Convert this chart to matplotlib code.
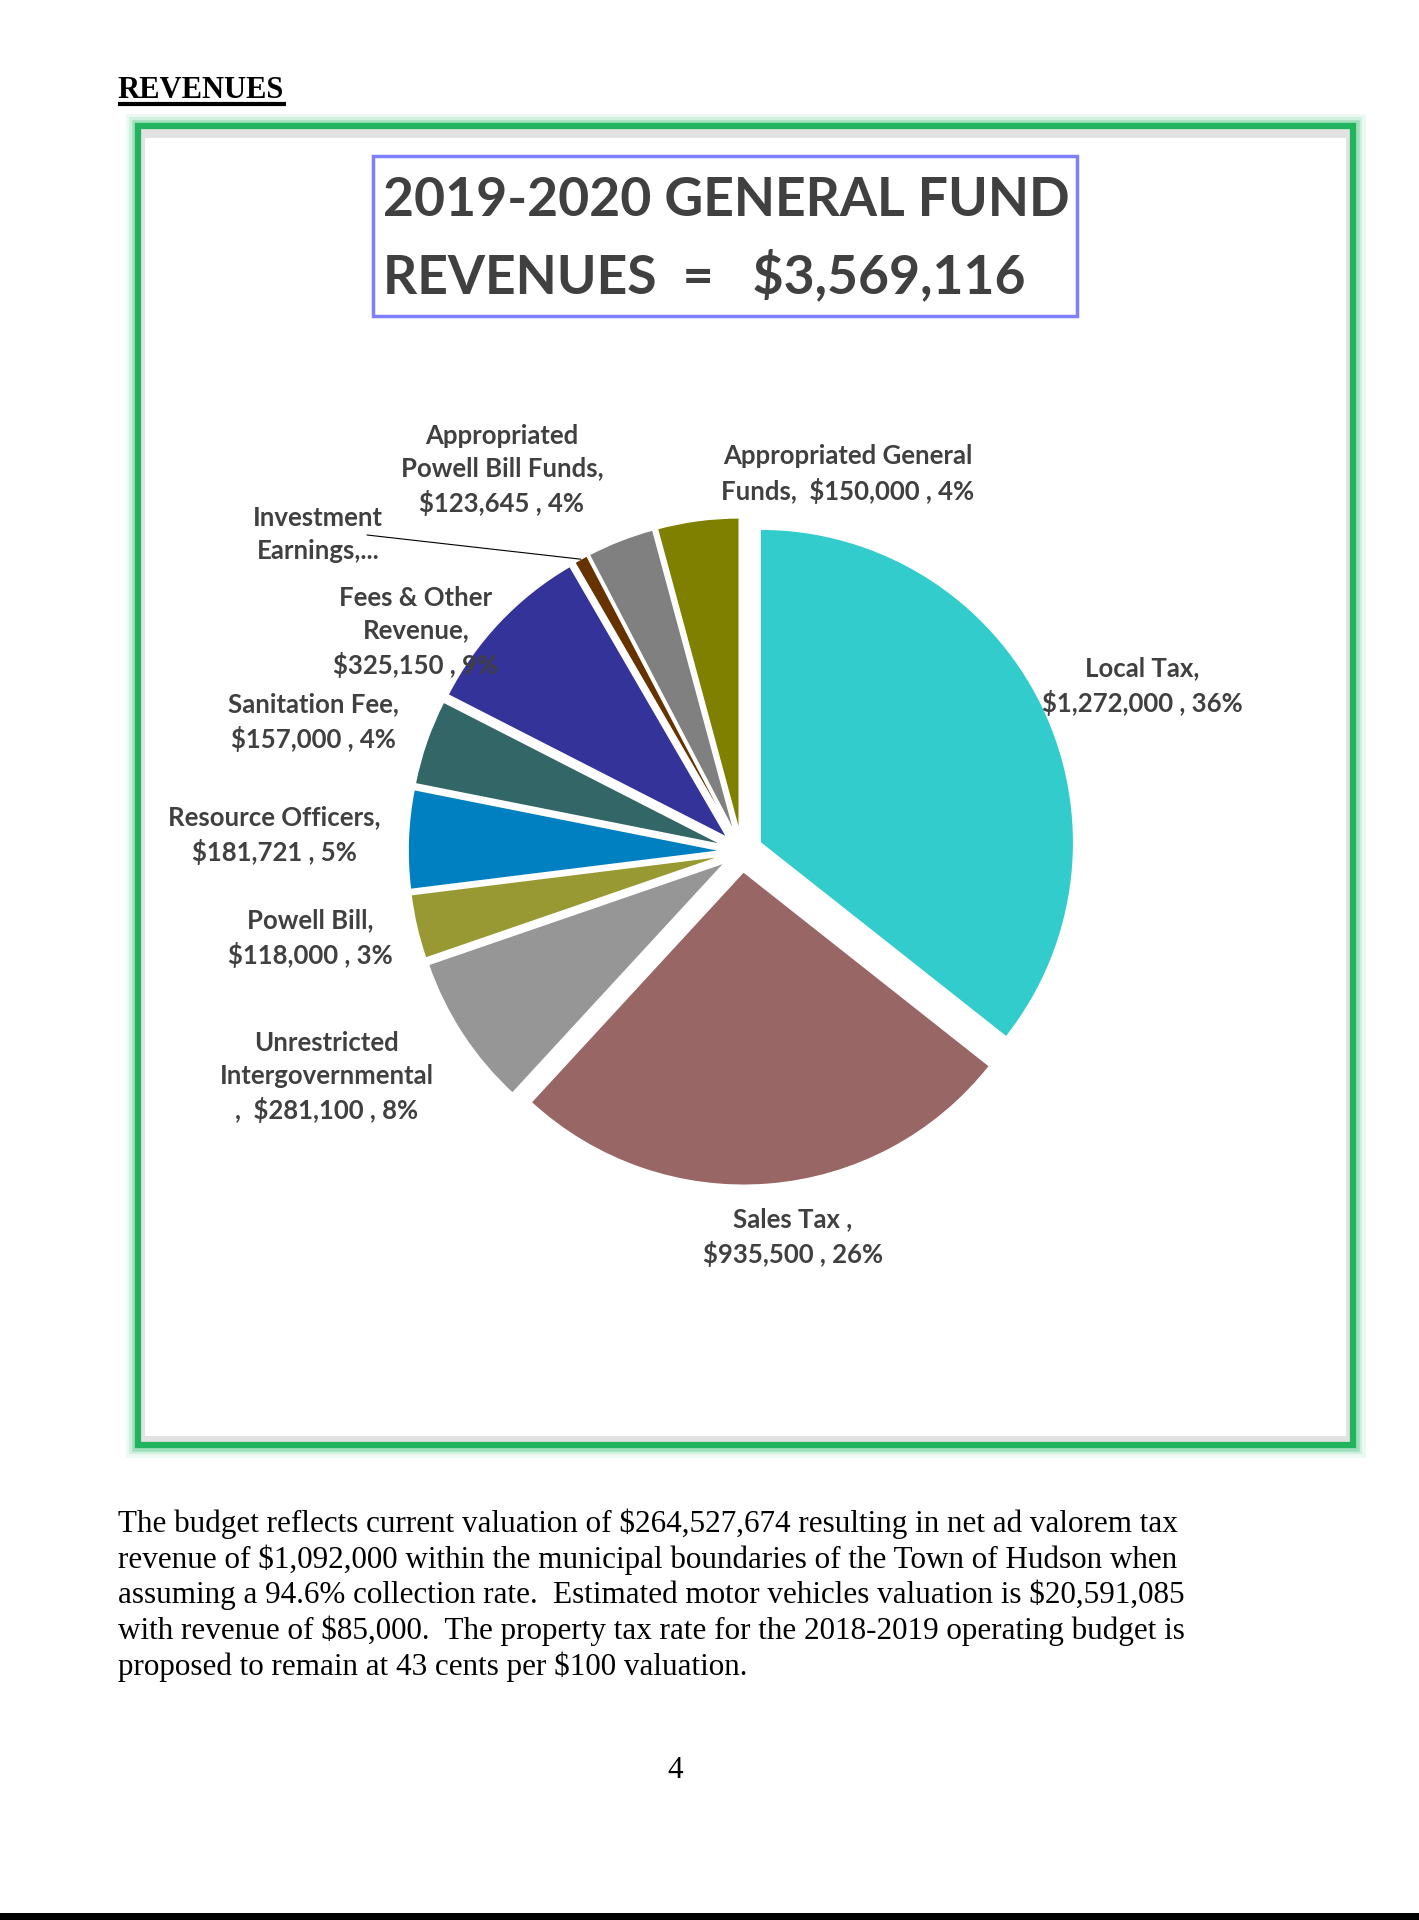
import matplotlib.pyplot as plt
from matplotlib.patches import Rectangle
import numpy as np

# revenue data, clockwise from 12 o'clock
categories = ['Local Tax', 'Sales Tax', 'Unrestricted Intergovernmental', 'Powell Bill',
              'Resource Officers', 'Sanitation Fee', 'Fees & Other Revenue',
              'Investment Earnings', 'Appropriated Powell Bill Funds',
              'Appropriated General Funds']
amounts = [1272000, 935500, 281100, 118000, 181721, 157000, 325150, 25000, 123645, 150000]
colors = ['#33CCCC', '#996666', '#969696', '#999933', '#0080C0', '#336666',
          '#333399', '#663300', '#808080', '#808000']

# data labels as they are broken in the chart
label_texts = ['Local Tax,\n$1,272,000 , 36%',
               'Sales Tax ,\n$935,500 , 26%',
               'Unrestricted\nIntergovernmental\n,  $281,100 , 8%',
               'Powell Bill,\n$118,000 , 3%',
               'Resource Officers,\n$181,721 , 5%',
               'Sanitation Fee,\n$157,000 , 4%',
               'Fees & Other\nRevenue,\n$325,150 , 9%',
               'Investment\nEarnings,...',
               'Appropriated\nPowell Bill Funds,\n$123,645 , 4%',
               'Appropriated General\nFunds,  $150,000 , 4%']
# label centres in page pixels (x, y from top)
label_pos = [(1142, 686), (793, 1237), (327, 1077), (310, 938), (274, 835),
             (313, 722), (416, 632), (318, 535), (502, 470), (848, 474)]

title_lines = ['2019-2020 GENERAL FUND', 'REVENUES  =   $3,569,116']
body_lines = ['The budget reflects current valuation of $264,527,674 resulting in net ad valorem tax',
              'revenue of $1,092,000 within the municipal boundaries of the Town of Hudson when',
              'assuming a 94.6% collection rate.  Estimated motor vehicles valuation is $20,591,085',
              'with revenue of $85,000.  The property tax rate for the 2018-2019 operating budget is',
              'proposed to remain at 43 cents per $100 valuation.']

W, H = 1419, 1920
fig = plt.figure(figsize=(W / 100, H / 100), dpi=100)
bg = fig.add_axes([0, 0, 1, 1])
bg.set_xlim(0, W)
bg.set_ylim(H, 0)
bg.axis('off')


def fpos(x, y):
    return x / W, 1 - y / H


# heading
fig.text(*fpos(117.5, 98), 'REVENUES', fontsize=22, fontweight='bold',
         family='Liberation Serif', va='baseline', ha='left')
bg.plot([117.5, 286], [104, 104], color='black', lw=3, solid_capstyle='butt')

# green chart frame with glow
x0, y0, x1, y1 = 138, 126, 1353, 1445
for lw, a in [(18, 0.08), (13, 0.15), (9, 0.3)]:
    bg.add_patch(Rectangle((x0, y0), x1 - x0, y1 - y0, fill=False,
                           edgecolor='#2dbd6e', lw=lw, alpha=a))
bg.add_patch(Rectangle((x0, y0), x1 - x0, y1 - y0, facecolor='#e2e2e2',
                       edgecolor='#22b35e', lw=4.5))
bg.add_patch(Rectangle((x0 + 7, y0 + 12), x1 - x0 - 14, y1 - y0 - 21,
                       facecolor='white', edgecolor='none'))

# title box
bg.add_patch(Rectangle((373, 156), 704, 160, fill=False, edgecolor='#8080ff', lw=2.5))
fig.text(*fpos(383, 200), title_lines[0], fontsize=38.5, fontweight='bold',
         family='Lato', color='#404040', va='center', ha='left')
fig.text(*fpos(383, 276), title_lines[1], fontsize=38.5, fontweight='bold',
         family='Lato', color='#404040', va='center', ha='left')

# pie
cx, cy, r = 741.9, 851.5, 313.4
span = 1.6
ax = fig.add_axes([(cx - span * r) / W, (H - cy - span * r) / H,
                   2 * span * r / W, 2 * span * r / H])
wedges, _ = ax.pie(amounts, colors=colors, startangle=90, counterclock=False,
                   explode=[0.065] * len(amounts), radius=1,
                   wedgeprops=dict(edgecolor='white', linewidth=1))
ax.set_xlim(-span, span)
ax.set_ylim(-span, span)
ax.axis('off')

for txt, (lx, ly) in zip(label_texts, label_pos):
    fig.text(*fpos(lx, ly), txt, fontsize=18.5, fontweight='bold', family='Lato',
             color='#404040', ha='center', va='center', linespacing=1.45,
             multialignment='center')

# leader line for Investment Earnings
w = wedges[categories.index('Investment Earnings')]
mid = np.deg2rad((w.theta1 + w.theta2) / 2)
ex, ey = w.center
ax.annotate('', xy=(ex + np.cos(mid), ey + np.sin(mid)),
            xytext=(367, H - 535), textcoords='figure pixels',
            arrowprops=dict(arrowstyle='-', color='black', lw=0.8, shrinkA=0, shrinkB=0))

# body text
for i, line in enumerate(body_lines):
    fig.text(*fpos(117.5, 1524 + i * 35.6), line, fontsize=22.4,
             family='Liberation Serif', va='center', ha='left')
fig.text(*fpos(675, 1770), '4', fontsize=22.4, family='Liberation Serif',
         va='center', ha='center')

bg.add_patch(Rectangle((0, 1913), W, 7, facecolor='black', edgecolor='none'))

fig.savefig('out.png', dpi=100)
